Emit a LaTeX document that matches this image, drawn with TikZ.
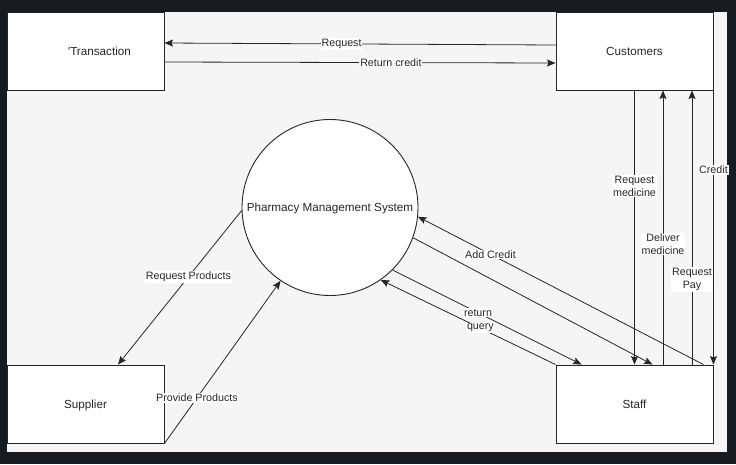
\documentclass[tikz,border=0pt]{standalone}
\usepackage{fontspec}
\setmainfont{Liberation Sans}
\usetikzlibrary{arrows.meta}
\definecolor{frame}{HTML}{161B1F}
\definecolor{canvas}{HTML}{F5F5F5}
\definecolor{ink}{HTML}{262626}
\begin{document}
\begin{tikzpicture}[x=1pt,y=-1pt,
  entity/.style={draw=ink, fill=white, line width=0.9pt, minimum width=157pt,
    minimum height=78pt, inner sep=0pt, text depth=0pt, text=ink,
    font=\fontsize{11.7}{13}\selectfont},
  process/.style={draw=ink, fill=white, circle, line width=0.9pt, minimum size=176pt,
    inner sep=0pt, text depth=0pt, text=ink, font=\fontsize{11.7}{13}\selectfont},
  flow/.style={draw=ink, line width=0.8pt, -{Stealth[length=8.5pt,width=7pt,inset=1.5pt]}},
  lbl/.style={fill=white, inner sep=0.8pt, text=ink, align=center,
    font=\fontsize{10.7}{13}\selectfont},
]
% page frame and canvas
\fill[frame] (0,0) rectangle (736,464);
\fill[canvas] (7,12) rectangle (727,452);

% external entities and the central process
\node[entity] (trans) at (85.5,51) {\hspace*{28pt}′Transaction};
\node[entity] (cust) at (634.5,51) {Customers};
\node[entity] (staff) at (634.5,404) {Staff};
\node[entity] (supp) at (85.5,404) {Supplier};
\node[process] (pms) at (330,207.5) {Pharmacy Management System};

% Customers <-> Transaction
\draw[flow] ([yshift=6pt]cust.west) -- node[lbl,pos=0.547]{Request} ([yshift=8pt]trans.east);
\draw[flow] ([yshift=-11pt]trans.east) -- node[lbl,pos=0.579]{Return credit} ([yshift=-12pt]cust.west);

% Customers <-> Staff
\draw[flow] (cust.south) -- node[lbl,pos=0.35]{Request\\medicine} (staff.north);
\draw[flow] ([xshift=28.5pt]staff.north) -- node[lbl,pos=0.44]{Deliver\\medicine} ([xshift=28.5pt]cust.south);
\draw[flow] ([xshift=57.5pt]staff.north) -- node[lbl,pos=0.31]{Request\\Pay} ([xshift=57.5pt]cust.south);
\draw[flow] (cust.south east) -- node[lbl,pos=0.29]{Credit} (staff.north east);

% Staff <-> system
\draw[flow] ([xshift=-10pt]staff.north east) -- node[lbl,pos=0.746]{Add Credit} (pms.-6);
\draw[flow] (pms.-20) -- ([xshift=18pt]staff.north);
\draw[flow] (pms.-45) -- node[lbl,pos=0.452]{return} ([xshift=26pt]staff.north west);
\draw[flow] (staff.north west) -- node[lbl,pos=0.43]{query} (pms.-55);

% Supplier <-> system
\draw[flow] (pms.182) -- node[lbl,pos=0.43]{Request Products} ([xshift=32.5pt]supp.north);
\draw[flow] (supp.south east) -- node[lbl,pos=0.28]{Provide Products} (pms.236);
\end{tikzpicture}
\end{document}
